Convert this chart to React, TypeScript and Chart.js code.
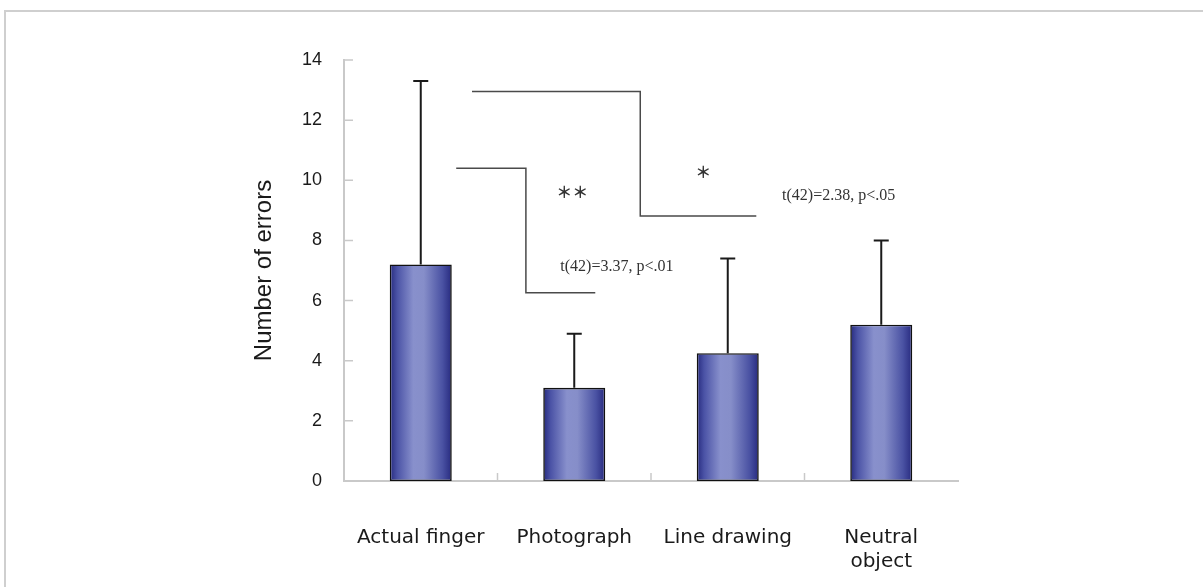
import React, { useEffect, useRef } from "react";
import { Chart, registerables } from "chart.js";

Chart.register(...registerables);

// Conditions on the x axis
const categories: (string | string[])[] = [
  "Actual finger",
  "Photograph",
  "Line drawing",
  ["Neutral", "object"],
];

// Mean number of errors per condition and its standard deviation
const meanErrors = [7.2, 3.1, 4.25, 5.2];
const sdErrors = [6.1, 1.8, 3.15, 2.8];

// Y axis tick values
const yTickValues = [0, 2, 4, 6, 8, 10, 12, 14];

// Significance brackets: [x (category index units), y (value units)] vertices
const bracketPaths: [number, number][][] = [
  [
    [0.231, 10.4],
    [0.685, 10.4],
    [0.685, 6.26],
    [1.137, 6.26],
  ],
  [
    [0.334, 12.95],
    [1.43, 12.95],
    [1.43, 8.81],
    [2.186, 8.81],
  ],
];

// Significance marks: [text, x (category index), y (value)]
const starLabels: [string, number, number][] = [
  ["＊＊", 0.987, 9.61],
  ["＊", 1.84, 10.28],
];

// Test statistics, left-aligned: [text, x (category index), y (value)]
const statLabels: [string, number, number][] = [
  ["t(42)=3.37, p<.01", 0.909, 7.12],
  ["t(42)=2.38, p<.05", 2.354, 9.48],
];

const BAR_PCT = 0.404;
const AXIS_GREY = "#c9c9c9";

function barGradient(ctx: any) {
  const chart = ctx.chart;
  const xs = chart.scales?.x;
  if (!xs || !chart.chartArea || ctx.dataIndex === undefined) return "#5a62b0";
  const cx = xs.getPixelForValue(ctx.dataIndex);
  const w = (xs.width / categories.length) * BAR_PCT;
  const g = chart.ctx.createLinearGradient(cx - w / 2, 0, cx + w / 2, 0);
  g.addColorStop(0, "#262a7e");
  g.addColorStop(0.12, "#4b53a6");
  g.addColorStop(0.38, "#8890cc");
  g.addColorStop(0.55, "#868ec9");
  g.addColorStop(0.85, "#4a52a3");
  g.addColorStop(1, "#272a7f");
  return g;
}

// Horizontal pixel for a fractional category position
function catX(chart: any, v: number) {
  const xs = chart.scales.x;
  const step = xs.getPixelForValue(1) - xs.getPixelForValue(0);
  return xs.getPixelForValue(0) + v * step;
}

const decorations = {
  id: "decorations",
  afterDatasetsDraw(chart: any) {
    const { ctx, scales } = chart;
    const ys = scales.y;
    const area = chart.chartArea;
    ctx.save();

    // inward tick marks on both axes
    ctx.strokeStyle = AXIS_GREY;
    ctx.lineWidth = 1.5;
    ctx.beginPath();
    yTickValues.forEach((v) => {
      const py = ys.getPixelForValue(v);
      ctx.moveTo(area.left, py);
      ctx.lineTo(area.left + 9, py);
    });
    for (let i = 1; i < categories.length; i++) {
      const px = catX(chart, i - 0.5);
      ctx.moveTo(px, area.bottom);
      ctx.lineTo(px, area.bottom - 8);
    }
    ctx.stroke();

    // error bars (upper side only)
    const meta = chart.getDatasetMeta(0);
    ctx.strokeStyle = "#1a1a1a";
    ctx.lineWidth = 2;
    meta.data.forEach((bar: any, i: number) => {
      const top = ys.getPixelForValue(meanErrors[i] + sdErrors[i]);
      ctx.beginPath();
      ctx.moveTo(bar.x, bar.y);
      ctx.lineTo(bar.x, top);
      ctx.moveTo(bar.x - 7.5, top);
      ctx.lineTo(bar.x + 7.5, top);
      ctx.stroke();
    });

    // significance brackets
    ctx.strokeStyle = "#4a4a4a";
    ctx.lineWidth = 1.5;
    bracketPaths.forEach((path) => {
      ctx.beginPath();
      path.forEach(([cx, v], k) => {
        const px = catX(chart, cx);
        const py = ys.getPixelForValue(v);
        if (k === 0) ctx.moveTo(px, py);
        else ctx.lineTo(px, py);
      });
      ctx.stroke();
    });

    ctx.fillStyle = "#333";
    ctx.textBaseline = "middle";
    ctx.textAlign = "center";
    ctx.font = "bold 16px 'Noto Sans CJK JP'";
    starLabels.forEach(([t, cx, v]) => {
      ctx.fillText(t, catX(chart, cx), ys.getPixelForValue(v));
    });

    ctx.textAlign = "left";
    ctx.font = "16px 'Liberation Serif'";
    statLabels.forEach(([t, cx, v]) => {
      ctx.fillText(t, catX(chart, cx), ys.getPixelForValue(v));
    });

    ctx.restore();
  },
};

export default function App() {
  const canvasRef = useRef<HTMLCanvasElement | null>(null);

  useEffect(() => {
    if (!canvasRef.current) return;
    const chart = new Chart(canvasRef.current, {
      type: "bar",
      data: {
        labels: categories,
        datasets: [
          {
            data: meanErrors,
            backgroundColor: barGradient,
            borderColor: "#111",
            borderWidth: 1.6,
            borderSkipped: false,
            barPercentage: BAR_PCT,
            categoryPercentage: 1,
          },
        ],
      },
      options: {
        animation: false,
        responsive: true,
        maintainAspectRatio: false,
        layout: { padding: { left: 244, right: 245, top: 60, bottom: 0 } },
        plugins: { legend: { display: false }, tooltip: { enabled: false } },
        scales: {
          x: {
            afterFit: (s: any) => {
              s.height = 106;
            },
            grid: { display: false, drawTicks: false },
            border: { display: true, color: AXIS_GREY, width: 2 },
            ticks: {
              padding: 45,
              color: "#1a1a1a",
              font: { family: "'DejaVu Sans'", size: 20 },
              maxRotation: 0,
              autoSkip: false,
            },
          },
          y: {
            min: 0,
            max: 14,
            afterFit: (s: any) => {
              s.width = 100;
            },
            grid: { display: false, drawTicks: false },
            border: { display: true, color: AXIS_GREY, width: 2 },
            ticks: {
              stepSize: 2,
              padding: 22,
              color: "#1a1a1a",
              font: { family: "'Liberation Sans'", size: 18 },
            },
            title: {
              display: true,
              text: "Number of errors",
              color: "#1a1a1a",
              font: { family: "'Liberation Sans'", size: 24 },
              padding: { top: 6, bottom: 0 },
            },
          },
        },
      },
      plugins: [decorations],
    });
    return () => chart.destroy();
  }, []);

  return (
    <div
      style={{
        position: "fixed",
        left: 0,
        top: 0,
        width: 1203,
        height: 587,
        overflow: "hidden",
        background: "#fff",
      }}
    >
      <div
        style={{
          position: "absolute",
          left: 4,
          top: 10,
          width: 1400,
          height: 800,
          border: "2px solid #cfcfcf",
        }}
      />
      <div style={{ position: "absolute", left: 0, top: 0, width: 1203, height: 587 }}>
        <canvas ref={canvasRef} />
      </div>
    </div>
  );
}
